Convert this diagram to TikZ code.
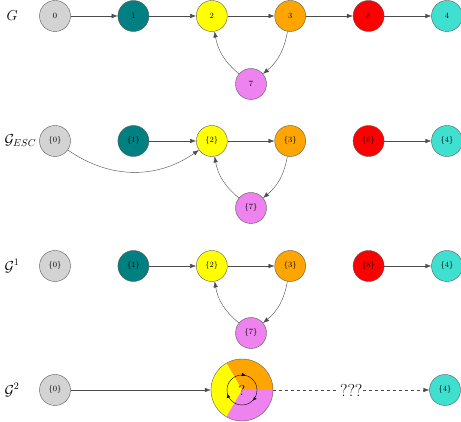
\documentclass[tikz,border=0pt]{standalone}
\usetikzlibrary{positioning,calc,arrows.meta,decorations.markings}

\definecolor{cgray}{HTML}{D3D3D3}
\definecolor{cteal}{HTML}{008080}
\definecolor{cyellow}{HTML}{FFFF00}
\definecolor{corange}{HTML}{FFA500}
\definecolor{cred}{HTML}{FF0000}
\definecolor{cviolet}{HTML}{EE82EE}
\definecolor{cturq}{HTML}{40E0D0}

\begin{document}
\begin{tikzpicture}[x=1pt, y=1pt,
	vertex/.style={draw=black!65, circle, minimum size=31pt, inner sep=0pt, font=\footnotesize},
	edge/.style={draw=black!70, -{Latex[length=6pt,width=4.5pt]}},
	rowlabel/.style={anchor=west, font=\Large},
	node distance=47pt]
	\useasboundingbox (0,0) rectangle (461,422);

	% G
	\node[rowlabel] (lA) at (3,406) {$G$};
	\node[vertex, fill=cgray] (a0) at (55,406) {0};
	\node[vertex, fill=cteal, right=of a0] (a1) {1};
	\node[vertex, fill=cyellow, right=of a1] (a2) {2};
	\node[vertex, fill=corange, right=of a2] (a3) {3};
	\node[vertex, fill=cred, right=of a3] (a8) {8};
	\node[vertex, fill=cturq, right=of a8] (a4) {4};
	\node[vertex, fill=cviolet] (a7) at ($(a2)!0.5!(a3)+(0,-68)$) {7};
	\draw[edge] (a0) -- (a1);
	\draw[edge] (a1) -- (a2);
	\draw[edge] (a2) -- (a3);
	\draw[edge] (a3) -- (a8);
	\draw[edge] (a8) -- (a4);
	\draw[edge] (a3) to[bend left=20] (a7);
	\draw[edge] (a7) to[bend left=20] (a2);

	% G_ESC
	\node[rowlabel] (lB) at (1,281) {$\mathcal{G}_{ESC}$};
	\node[vertex, fill=cgray] (b0) at (55,281) {$\{0\}$};
	\node[vertex, fill=cteal, right=of b0] (b1) {$\{1\}$};
	\node[vertex, fill=cyellow, right=of b1] (b2) {$\{2\}$};
	\node[vertex, fill=corange, right=of b2] (b3) {$\{3\}$};
	\node[vertex, fill=cred, right=of b3] (b8) {$\{8\}$};
	\node[vertex, fill=cturq, right=of b8] (b4) {$\{4\}$};
	\node[vertex, fill=cviolet] (b7) at ($(b2)!0.5!(b3)+(0,-67)$) {$\{7\}$};
	\draw[edge] (b0) to[bend right=35] (b2);
	\draw[edge] (b1) -- (b2);
	\draw[edge] (b2) -- (b3);
	\draw[edge] (b8) -- (b4);
	\draw[edge] (b3) to[bend left=20] (b7);
	\draw[edge] (b7) to[bend left=20] (b2);

	% G^1
	\node[rowlabel] (lC) at (1,156) {$\mathcal{G}^1$};
	\node[vertex, fill=cgray] (c0) at (55,156) {$\{0\}$};
	\node[vertex, fill=cteal, right=of c0] (c1) {$\{1\}$};
	\node[vertex, fill=cyellow, right=of c1] (c2) {$\{2\}$};
	\node[vertex, fill=corange, right=of c2] (c3) {$\{3\}$};
	\node[vertex, fill=cred, right=of c3] (c8) {$\{8\}$};
	\node[vertex, fill=cturq, right=of c8] (c4) {$\{4\}$};
	\node[vertex, fill=cviolet] (c7) at ($(c2)!0.5!(c3)+(0,-67)$) {$\{7\}$};
	\draw[edge] (c1) -- (c2);
	\draw[edge] (c2) -- (c3);
	\draw[edge] (c8) -- (c4);
	\draw[edge] (c3) to[bend left=20] (c7);
	\draw[edge] (c7) to[bend left=20] (c2);

	% G^2
	\node[rowlabel] (lD) at (1,32) {$\mathcal{G}^2$};
	\node[vertex, fill=cgray] (d0) at (55,32) {$\{0\}$};
	\node[circle, minimum size=62pt, inner sep=0pt] (dc) at (242,32) {};
	\fill[corange] (dc.center) -- ++(0:31) arc (0:120:31) -- cycle;
	\fill[cyellow] (dc.center) -- ++(120:31) arc (120:240:31) -- cycle;
	\fill[cviolet] (dc.center) -- ++(240:31) arc (240:360:31) -- cycle;
	\draw[black!65] (dc) circle (31);
	\draw[decoration={markings,
		mark=at position 0.04 with {\arrow{Latex[length=4pt,width=3.5pt]}},
		mark=at position 0.375 with {\arrow{Latex[length=4pt,width=3.5pt]}},
		mark=at position 0.71 with {\arrow{Latex[length=4pt,width=3.5pt]}}},
		postaction=decorate] (dc.center) ++(90:15) arc (90:-270:15);
	\node[font=\Large] at (dc.center) {?};
	\node[vertex, fill=cturq] (d4) at (445,32) {$\{4\}$};
	\draw[edge] (d0) -- (dc);
	\draw[edge, dashed] (dc) -- node[fill=white, font=\LARGE, inner sep=1pt] {???} (d4);
\end{tikzpicture}
\end{document}
